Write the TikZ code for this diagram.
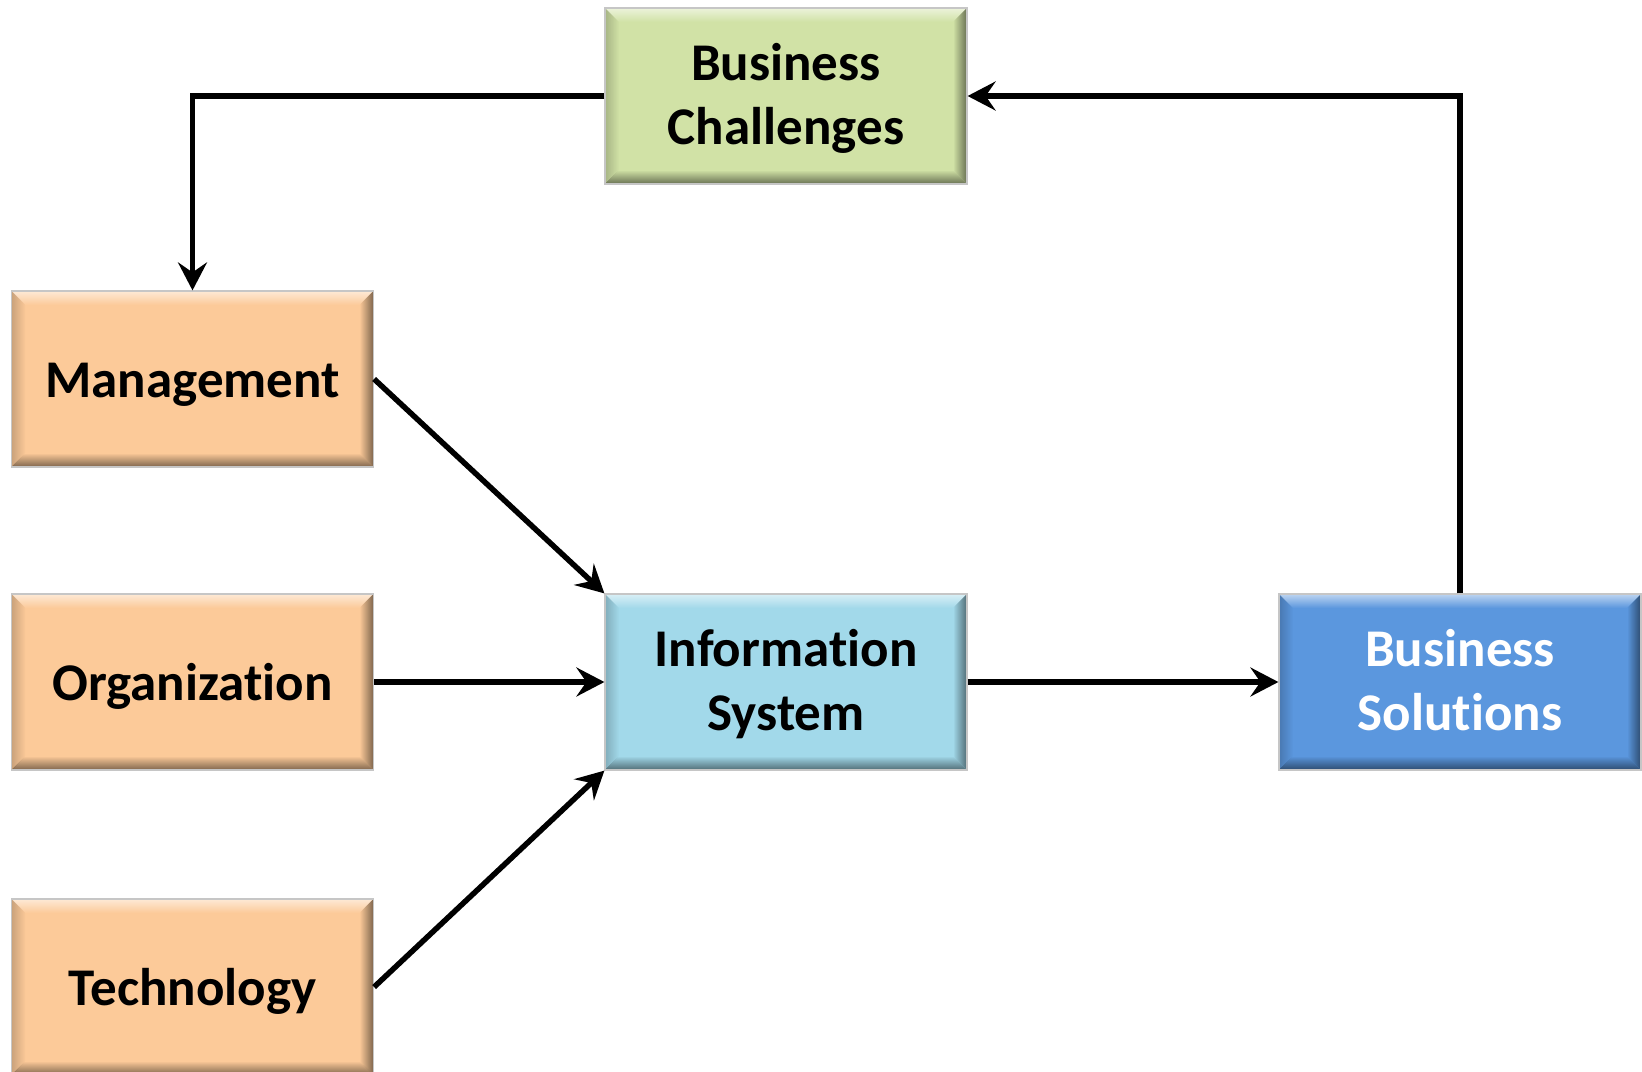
\documentclass[tikz,border=0pt]{standalone}
\usepackage{fontspec}
\setmainfont[Ligatures={NoCommon}]{Carlito}
\usetikzlibrary{arrows.meta,fadings}
\definecolor{greenF}{RGB}{209,226,166}
\definecolor{orangeF}{RGB}{252,202,153}
\definecolor{lblueF}{RGB}{162,217,234}
\definecolor{blueF}{RGB}{91,151,222}
\newcommand\boxtxt[2][2.8pt]{\raisebox{-#1}[\height][\depth]{\begin{tabular}{@{}c@{}}#2\end{tabular}}}
\tikzset{
  bevelbox/.style={draw=gray!45, line width=0.6pt, minimum width=181pt, minimum height=88pt,
    inner sep=0pt, font=\fontsize{26.5}{32}\selectfont\bfseries,
    path picture={
      \path (path picture bounding box.south west) coordinate (bsw)
            (path picture bounding box.north east) coordinate (bne);
      \path (bsw |- bne) coordinate (bnw) (bne |- bsw) coordinate (bse);
      \fill[white,opacity=.6,path fading=south] (bnw) -- (bne) -- ([shift={(-7pt,-7pt)}]bne) -- ([shift={(7pt,-7pt)}]bnw) -- cycle;
      \fill[black,opacity=.2,path fading=east] (bnw) -- ([shift={(7pt,-7pt)}]bnw) -- ([shift={(7pt,7pt)}]bsw) -- (bsw) -- cycle;
      \fill[black,opacity=.5,path fading=west] (bne) -- (bse) -- ([shift={(-7pt,7pt)}]bse) -- ([shift={(-7pt,-7pt)}]bne) -- cycle;
      \fill[black,opacity=.5,path fading=north] (bsw) -- (bse) -- ([shift={(-7pt,7pt)}]bse) -- ([shift={(7pt,7pt)}]bsw) -- cycle;
    }},
  conn/.style={line width=2.75pt, -{Stealth[length=14pt,width=14.5pt,inset=5pt]}}
}
\begin{document}
\begin{tikzpicture}[x=0.5pt,y=-0.5pt]
\useasboundingbox (0,0) rectangle (1642,1071);
\node[bevelbox, fill=greenF] (bc) at (786,96) {\boxtxt[1.6pt]{Business\\Challenges}};
\node[bevelbox, fill=orangeF] (mgmt) at (192.5,379) {\boxtxt{Management}};
\node[bevelbox, fill=orangeF] (org) at (192.5,682) {\boxtxt{Organization}};
\node[bevelbox, fill=orangeF] (tech) at (192.5,987) {\boxtxt{Technology}};
\node[bevelbox, fill=lblueF] (is) at (786,682) {\boxtxt[1.6pt]{Information\\System}};
\node[bevelbox, fill=blueF, text=white] (bs) at (1460,682) {\boxtxt[1.6pt]{Business\\Solutions}};
\draw[conn] (bc.west) -| (mgmt.north);
\draw[conn] (bs.north) |- (bc.east);
\draw[conn] (mgmt.east) -- (is.north west);
\draw[conn] (org.east) -- (is.west);
\draw[conn] (tech.east) -- (is.south west);
\draw[conn] (is.east) -- (bs.west);
\end{tikzpicture}
\end{document}
